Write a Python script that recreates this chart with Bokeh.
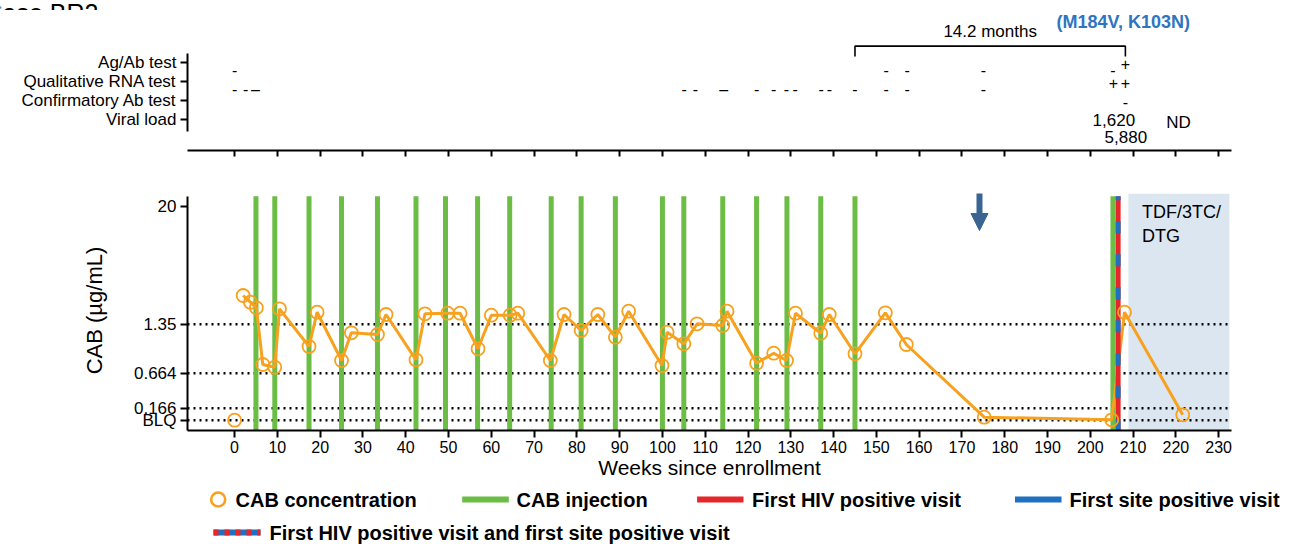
from bokeh.plotting import figure
from bokeh.layouts import column
from bokeh.models import Range1d, FixedTicker, Label, Arrow, NormalHead
from bokeh.core.properties import value
from bokeh.embed import file_html
from bokeh.resources import INLINE

# ---------------- data ----------------
week_ticks = list(range(0, 231, 10))

# CAB axis is a segmented (non-linear) scale: axis positions of the printed ticks
cab_tick_pos = [0, 12, 47, 96, 214]
cab_tick_labels = ["BLQ", "0.166", "0.664", "1.35", "20"]
cab_ref_levels = [0, 12, 47, 96]          # dotted reference lines (BLQ, 0.166, 0.664, 1.35)

# CAB concentration, expressed on the axis scale above
cab_weeks = [0, 2, 3.7, 5.1, 6.6, 9.4, 10.5, 17.4, 19.3, 25,
             27.3, 33.4, 35.4, 42.4, 44.5, 49.8, 52.7, 56.9, 60, 64.4,
             66.2, 73.8, 77, 81, 84.9, 89, 92.1, 99.9, 101.1, 105,
             108.1, 114.1, 115.1, 122, 126, 129, 131.1, 137, 139, 145,
             152.1, 157, 175.2, 205, 208, 221.6]
cab_level = [0, 124.7, 118, 112.4, 55.7, 53, 111.4, 73.7, 108, 59.7,
             87.4, 85.7, 105.7, 60.4, 106.4, 107, 107, 71.4, 105, 105,
             107, 59.7, 105.7, 89.7, 105.7, 83, 109, 54.7, 88, 76.4,
             96.4, 94.7, 109, 57, 67, 59.7, 107, 87, 105.7, 66.4,
             107.4, 75.7, 3, 0.4, 108, 5.4]

injection_weeks = [5, 9.4, 17.4, 25, 33.4, 42.4, 49.3, 56.8, 64.3, 74,
                   81, 89, 100, 105, 114.1, 122, 129.1, 137, 145, 205.3]
first_positive_week = 206.5
art_start_week = 208.9          # TDF/3TC/DTG start
art_end_week = 232.5
arrow_week = 174.1

test_rows = ["Viral load", "Confirmatory Ab test", "Qualitative RNA test", "Ag/Ab test"]

agab_weeks = [0, 152.3, 157.2, 175, 205.3, 208.2]
agab_results = ["-", "-", "-", "-", "-", "+"]
rna_weeks = [0, 2.6, 4.9, 105.1, 107.7, 114.3, 122, 126, 129, 131,
             137.1, 139, 145, 152.3, 157.2, 175, 205.4, 208.2]
rna_results = ["-", "-", "–", "-", "-", "–", "-", "-", "-", "-",
               "-", "-", "-", "-", "-", "-", "+", "+"]
confirm_weeks = [208.2]
confirm_results = ["-"]
vl_weeks = [205.5, 208.3, 220.6]
vl_results = ["1,620", "5,880", "ND"]

bracket_weeks = [145, 208.2]
bracket_text = "14.2 months"
resistance_text = "(M184V, K103N)"
tfv_text = "TFV=102"
art_text = ["TDF/3TC/", "DTG"]
panel_title = "Case BR2"

legend_labels = ["CAB concentration", "CAB injection", "First HIV positive visit",
                 "First site positive visit",
                 "First HIV positive visit and first site positive visit"]

# ---------------- style ----------------
FONT = "Liberation Sans"
ORANGE = "#f7a11e"
GREEN = "#6bbd45"
RED = "#e5262a"
BLUE = "#1f70c1"
TXT_BLUE = "#2e75c0"
ARROW_C = "#3a6592"
SHADE = "#dce6f0"
W = 1306
X_LO, X_HI = -11, 233
BORDER_L, BORDER_R = 187, 75
ROW_PX = 18.9          # pixel spacing of the test rows


def style_axis(ax, size):
    ax.axis_line_width = 2
    ax.axis_line_color = "black"
    ax.major_tick_line_width = 2
    ax.major_tick_line_color = "black"
    ax.major_tick_out = 7
    ax.major_tick_in = 0
    ax.minor_tick_line_color = None
    ax.major_label_text_font = FONT
    ax.major_label_text_font_size = size
    ax.major_label_text_color = "black"


def strip(height):
    """A figure whose frame is the whole canvas, in page-pixel coordinates."""
    f = figure(width=W, height=height, x_range=Range1d(0, W), y_range=Range1d(height, 0),
               x_axis_type=None, y_axis_type=None, output_backend="svg",
               toolbar_location=None, min_border=0, min_border_left=0, min_border_right=0,
               min_border_top=0, min_border_bottom=0, outline_line_color=None)
    f.grid.visible = False
    f.frame_align = False
    return f


# ---------------- title strip (title cut off at the top, as in the source) ----------------
TH = 10
ph = strip(TH)
ph.text(x=[-16], y=[TH], text=[panel_title], text_font=value(FONT), text_font_size="25px",
        text_align="left", text_baseline="alphabetic", text_color="black")

# ---------------- top panel (tests) ----------------
pt = figure(width=W, height=165 - TH, x_range=Range1d(X_LO, X_HI),
            y_range=Range1d(-0.64, 1 + (119 - TH) / ROW_PX),
            output_backend="svg", toolbar_location=None,
            min_border_left=BORDER_L, min_border_right=BORDER_R,
            min_border_top=0, min_border_bottom=15, outline_line_color=None)
pt.grid.visible = False
style_axis(pt.xaxis[0], "0px")
pt.xaxis.ticker = FixedTicker(ticks=week_ticks)
pt.xaxis.major_label_standoff = 0
pt.xaxis.major_tick_out = 6
style_axis(pt.yaxis[0], "17px")
pt.yaxis.ticker = FixedTicker(ticks=[1, 2, 3, 4])
pt.yaxis.major_label_overrides = {i + 1: n for i, n in enumerate(test_rows)}
pt.yaxis.major_label_standoff = 4
pt.yaxis.bounds = (0.365, 4.49)


def dash_shift(r):
    return 0.4 if r in ("-", "–") else 0.08


def row_text(weeks, results, ys, size):
    pt.text(x=weeks, y=ys, text=results, text_font=value(FONT), text_font_size=size,
            text_align="center", text_baseline="middle", text_color="black")


row_text(agab_weeks, agab_results, [4 - dash_shift(r) for r in agab_results], "16px")
row_text(rna_weeks, rna_results, [3 - dash_shift(r) for r in rna_results], "16px")
row_text(confirm_weeks, confirm_results, [2 - 0.05 for _ in confirm_results], "16px")
vl_dy = [0, 0.9, 0.16]
row_text(vl_weeks, vl_results, [1 - d for d in vl_dy], "17px")

b0, b1 = bracket_weeks
pt.line(x=[b0, b0, b1, b1], y=[4.333, 4.88, 4.88, 4.333], line_color="black", line_width=1.6)
pt.text(x=[(b0 + b1) / 2], y=[5.656], text=[bracket_text], text_font=value(FONT),
        text_font_size="17px", text_align="center", text_baseline="middle", text_color="black")
pt.text(x=[207.7], y=[1 + (119 - 21) / ROW_PX], text=[resistance_text], text_font=value(FONT),
        text_font_size="18px", text_font_style="bold", text_align="center",
        text_baseline="middle", text_color=TXT_BLUE)

# ---------------- main panel (CAB) ----------------
Y_LO, Y_HI = -10.3, 229.7
pm = figure(width=W, height=319, x_range=Range1d(X_LO, X_HI), y_range=Range1d(Y_LO, Y_HI),
            output_backend="svg", toolbar_location=None,
            min_border_left=BORDER_L, min_border_right=BORDER_R,
            min_border_top=25, min_border_bottom=54, outline_line_color=None)
pm.grid.visible = False
style_axis(pm.xaxis[0], "16px")
pm.xaxis.ticker = FixedTicker(ticks=week_ticks)
pm.xaxis.major_label_standoff = 3
pm.xaxis.axis_label = "Weeks since enrollment"
pm.xaxis.axis_label_standoff = 0
pm.xaxis.axis_label_text_font = FONT
pm.xaxis.axis_label_text_font_size = "21px"
pm.xaxis.axis_label_text_font_style = "normal"
pm.xaxis.axis_label_text_color = "black"
style_axis(pm.yaxis[0], "17px")
pm.yaxis.ticker = FixedTicker(ticks=cab_tick_pos)
pm.yaxis.major_label_overrides = dict(zip(cab_tick_pos, cab_tick_labels))
pm.yaxis.major_label_standoff = 4
pm.yaxis.bounds = (Y_LO, 224)
pm.yaxis.axis_label = "CAB (µg/mL)"
pm.yaxis.axis_label_standoff = 24
pm.yaxis.axis_label_text_font = FONT
pm.yaxis.axis_label_text_font_size = "22px"
pm.yaxis.axis_label_text_font_style = "normal"
pm.yaxis.axis_label_text_color = "black"

# treatment shading
pm.quad(left=[art_start_week], right=[art_end_week], bottom=[Y_LO], top=[226.4],
        fill_color=SHADE, line_color=None)
# dotted reference lines
pm.segment(x0=[X_LO] * len(cab_ref_levels), x1=[X_HI] * len(cab_ref_levels),
           y0=cab_ref_levels, y1=cab_ref_levels, line_color="black", line_width=2.5,
           line_dash="2 4")
# injections
pm.segment(x0=injection_weeks, x1=injection_weeks, y0=[Y_LO] * len(injection_weeks),
           y1=[224] * len(injection_weeks), line_color=GREEN, line_width=5)
# concentration line
pm.line(x=cab_weeks[1:], y=cab_level[1:], line_color=ORANGE, line_width=3)
# first positive visit bar (red with blue dashes)
pm.segment(x0=[first_positive_week], x1=[first_positive_week], y0=[224], y1=[Y_LO],
           line_color=RED, line_width=5)
pm.segment(x0=[first_positive_week], x1=[first_positive_week], y0=[224], y1=[Y_LO],
           line_color=BLUE, line_width=5, line_dash="12 21", line_dash_offset=8)
pm.scatter(x=cab_weeks, y=cab_level, marker="circle", size=13, fill_color=None,
           line_color=ORANGE, line_width=1.8)

pm.add_layout(Arrow(end=NormalHead(size=17, fill_color=ARROW_C, line_color=ARROW_C),
                    x_start=arrow_week, y_start=226.7, x_end=arrow_week, y_end=189.7,
                    line_width=6, line_color=ARROW_C))
pm.add_layout(Label(x=207, y=240.7, text=tfv_text, text_font=FONT, text_font_size="17px",
                    text_align="center", text_baseline="middle", text_color=TXT_BLUE))
pm.text(x=[212.1, 212.1], y=[208, 184.7], text=art_text, text_font=value(FONT),
        text_font_size="18px", text_align="left", text_baseline="middle", text_color="black")

# ---------------- legend strip (x in page pixels) ----------------
LH = 60
pl = strip(LH)
r1, r2 = 15, 48
pl.scatter(x=[217.7], y=[r1], marker="circle", size=14, fill_color=None,
           line_color=ORANGE, line_width=2.6)
pl.segment(x0=[461.7], x1=[508.3], y0=[r1], y1=[r1], line_color=GREEN, line_width=6)
pl.segment(x0=[696.6], x1=[743], y0=[r1], y1=[r1], line_color=RED, line_width=6)
pl.segment(x0=[1014.5], x1=[1061], y0=[r1], y1=[r1], line_color=BLUE, line_width=6)
pl.segment(x0=[213], x1=[260], y0=[r2], y1=[r2], line_color=BLUE, line_width=6)
pl.segment(x0=[213], x1=[260], y0=[r2], y1=[r2], line_color=RED, line_width=6,
           line_dash="5 6", line_dash_offset=0)
leg_x = [235, 516, 751.5, 1069, 269]
leg_y = [r1, r1, r1, r1, r2]
pl.text(x=leg_x, y=leg_y, text=legend_labels, text_font=value(FONT), text_font_size="20px",
        text_font_style="bold", text_align="left", text_baseline="middle", text_color="black")

layout = column(ph, pt, pm, pl, spacing=0)
open("out.html", "w").write(file_html(layout, INLINE))
